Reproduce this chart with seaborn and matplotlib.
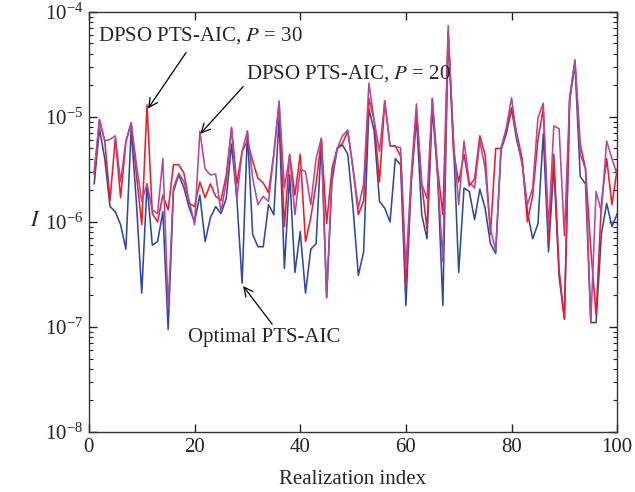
import numpy as np
import pandas as pd
import matplotlib
matplotlib.use('Agg')
import matplotlib.pyplot as plt
import seaborn as sns
from matplotlib.ticker import LogLocator, NullFormatter, MultipleLocator

# Realization index 1..100
realization = list(range(1, 101))

# DPSO PTS-AIC, P = 30 (red)
dpso_p30 = [
    2.8e-6, 9.2e-6, 5.9e-6, 1.6e-6, 6.3e-6, 1.7e-6, 5.7e-6, 8.8e-6, 2.8e-6, 9.4e-7,
    1.3e-5, 1.2e-6, 1.0e-6, 1.8e-6, 1.3e-6, 3.5e-6, 3.5e-6, 2.9e-6, 1.5e-6, 1.4e-6,
    2.4e-6, 1.7e-6, 2.3e-6, 1.75e-6, 1.6e-6, 2.8e-6, 7.8e-6, 2.3e-6, 4.7e-6, 5.9e-6,
    3.8e-6, 2.6e-6, 2.35e-6, 1.9e-6, 4.4e-6, 1.33e-5, 9.0e-7, 4.4e-6, 1.8e-6, 4.4e-6,
    6.5e-7, 1.1e-6, 2.3e-6, 6.1e-6, 9.6e-7, 3.2e-6, 5.0e-6, 5.6e-6, 7.3e-6, 3.2e-6,
    1.17e-6, 1.6e-6, 1.5e-5, 9.2e-6, 2.4e-6, 1.42e-5, 5.3e-6, 5.3e-6, 4.2e-6, 2.5e-7,
    2.4e-6, 1.07e-5, 2.3e-6, 8.6e-7, 1.5e-5, 3.2e-6, 1.17e-6, 6.5e-5, 4.7e-6, 2.4e-6,
    4.4e-6, 2.2e-6, 2.55e-6, 6.6e-6, 4.3e-6, 7.6e-7, 5.0e-6, 5.0e-6, 7.3e-6, 1.22e-5,
    6.9e-6, 4.0e-6, 1.0e-6, 1.8e-6, 6.1e-6, 1.2e-5, 6.5e-7, 4.4e-6, 3.5e-7, 1.18e-7,
    1.52e-5, 3.4e-5, 5.5e-6, 3.2e-6, 5.5e-7, 1.3e-7, 1.5e-6, 4.0e-6, 1.46e-6, 3.2e-6,
]

# DPSO PTS-AIC, P = 20 (magenta)
dpso_p20 = [
    3.0e-6, 9.5e-6, 5.9e-6, 6.1e-6, 6.6e-6, 2.4e-6, 5.9e-6, 8.8e-6, 3.5e-6, 1.57e-6,
    2.3e-6, 1.3e-6, 1.2e-6, 4.0e-6, 1.5e-7, 2.1e-6, 2.9e-6, 2.4e-6, 1.57e-6, 9.4e-7,
    7.3e-6, 3.2e-6, 2.8e-6, 2.85e-6, 1.25e-6, 2.4e-6, 8.0e-6, 1.67e-6, 4.7e-6, 7.3e-6,
    2.6e-6, 1.46e-6, 1.75e-6, 1.57e-6, 4.4e-6, 1.42e-5, 2.1e-6, 4.3e-6, 1.17e-6, 3.2e-6,
    3.0e-6, 1.46e-6, 4.0e-6, 6.3e-6, 1.9e-7, 2.8e-6, 5.0e-6, 6.6e-6, 7.5e-6, 3.2e-6,
    1.35e-6, 2.3e-6, 2.1e-5, 9.2e-6, 4.7e-6, 1.42e-5, 5.3e-6, 5.2e-6, 5.1e-6, 3.6e-7,
    2.8e-6, 1.33e-5, 2.3e-6, 1.67e-6, 1.5e-5, 2.8e-6, 4.2e-7, 7.4e-5, 5.9e-6, 1.46e-6,
    5.9e-6, 2.4e-6, 2.1e-6, 5.9e-6, 3.2e-6, 8.6e-7, 5.3e-7, 5.0e-6, 7.8e-6, 1.52e-5,
    6.3e-6, 3.5e-6, 1.46e-6, 2.1e-6, 9.8e-6, 1.35e-5, 8.5e-7, 8.2e-6, 7.7e-6, 7.4e-7,
    1.5e-5, 3.5e-5, 4.4e-6, 3.2e-6, 1.1e-7, 1.95e-6, 1.25e-6, 5.9e-6, 4.0e-6, 2.8e-6,
]

# Optimal PTS-AIC (blue)
optimal = [
    2.3e-6, 7.7e-6, 4.0e-6, 1.4e-6, 1.25e-6, 9.4e-7, 5.5e-7, 7.7e-6, 1.5e-6, 2.1e-7,
    2.3e-6, 6.0e-7, 6.5e-7, 1.25e-6, 9.5e-8, 1.95e-6, 2.8e-6, 2.1e-6, 1.35e-6, 1.0e-6,
    1.8e-6, 6.5e-7, 1.1e-6, 1.4e-6, 1.2e-6, 1.67e-6, 5.5e-6, 1.67e-6, 2.6e-7, 7.3e-6,
    7.6e-7, 5.8e-7, 5.8e-7, 1.46e-6, 1.17e-6, 9.8e-6, 3.6e-7, 2.8e-6, 3.3e-7, 8.1e-7,
    2.1e-7, 5.5e-7, 6.2e-7, 5.9e-6, 1.9e-7, 2.4e-6, 5.0e-6, 5.4e-6, 4.4e-6, 1.35e-6,
    3.1e-7, 5.2e-7, 1.19e-5, 7.3e-6, 1.57e-6, 1.35e-6, 1.0e-6, 4.0e-6, 3.5e-6, 1.6e-7,
    2.4e-6, 9.8e-6, 1.17e-6, 6.9e-7, 1.22e-5, 2.8e-6, 1.6e-7, 6.0e-5, 5.9e-6, 3.3e-7,
    2.1e-6, 1.95e-6, 1.05e-6, 2.05e-6, 1.35e-6, 6.2e-7, 5.0e-7, 4.8e-6, 6.9e-6, 1.19e-5,
    5.9e-6, 3.8e-6, 1.25e-6, 6.9e-7, 9.6e-7, 6.9e-6, 5.2e-7, 3.4e-6, 3.0e-7, 1.2e-7,
    1.42e-5, 3.2e-5, 2.7e-6, 2.3e-6, 1.1e-7, 1.1e-7, 7.6e-7, 1.5e-6, 9.0e-7, 1.2e-6,
]

df = pd.DataFrame({
    'idx': realization,
    'optimal': optimal,
    'p30': dpso_p30,
    'p20': dpso_p20,
})

sns.set_style('ticks')
plt.rcParams['font.family'] = ['Liberation Serif', 'DejaVu Serif']
plt.rcParams['mathtext.fontset'] = 'stix'

fig = plt.figure(figsize=(6.35, 4.92), dpi=100)
ax = fig.add_axes([0.140, 0.122, 0.832, 0.854])

sns.lineplot(data=df, x='idx', y='optimal', color='#2b4ba3', lw=1.15, ax=ax)
sns.lineplot(data=df, x='idx', y='p30', color='#ee1c25', lw=1.15, ax=ax)
sns.lineplot(data=df, x='idx', y='p20', color='#b2479f', lw=1.15, ax=ax)

ax.set_yscale('log')
ax.set_xlim(0, 100)
ax.set_ylim(1e-8, 1e-4)
ax.xaxis.set_major_locator(MultipleLocator(20))
ax.yaxis.set_major_locator(LogLocator(base=10, numticks=10))
ax.yaxis.set_minor_locator(LogLocator(base=10, subs=np.arange(2, 10), numticks=10))
ax.yaxis.set_minor_formatter(NullFormatter())

for s in ax.spines.values():
    s.set_linewidth(1.0)
    s.set_color('#333333')
ax.tick_params(which='both', direction='in', top=True, right=True, labelsize=15, colors='#222222')
ax.tick_params(which='major', length=6, width=1.0, pad=4)
ax.tick_params(which='minor', length=3, width=0.8)

ax.set_xlabel('Realization index', fontsize=15, labelpad=10)
ax.set_ylabel('$I$', fontsize=16, rotation=0, ha='center', va='center')
ax.yaxis.set_label_coords(-0.102, 0.5)

arrow = dict(arrowstyle='->', color='black', lw=0.9, mutation_scale=16, shrinkA=0, shrinkB=0)

# labels
ax.text(21.2, 5.9e-5, 'DPSO PTS-AIC, $P$ = 30', fontsize=15, ha='center', va='center')
ax.text(49.2, 2.6e-5, 'DPSO PTS-AIC, $P$ = 20', fontsize=15, ha='center', va='center')
ax.text(33.2, 7.9e-8, 'Optimal PTS-AIC', fontsize=15, ha='center', va='center')

# arrows
ax.annotate('', xy=(11.2, 1.2e-5), xytext=(18.4, 4.1e-5), arrowprops=arrow)
ax.annotate('', xy=(21.1, 6.9e-6), xytext=(29.2, 1.94e-5), arrowprops=arrow)
ax.annotate('', xy=(29.2, 2.45e-7), xytext=(34.7, 1.06e-7), arrowprops=arrow)

plt.savefig('out.png', dpi=100)
plt.close()
